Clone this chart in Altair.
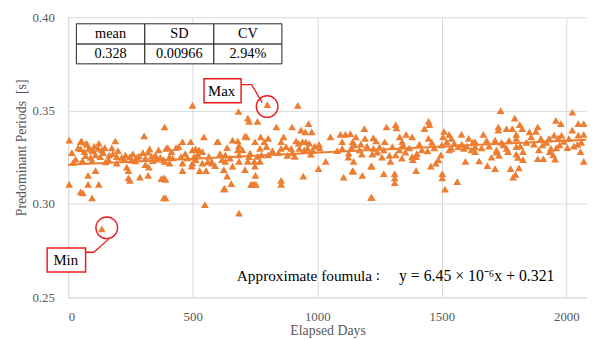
import altair as alt
import pandas as pd

# ---------------- data ----------------
pts_0_400 = [(4,0.3342),(54,0.3337),(77,0.3319),(50,0.3295),(83,0.3298),(96,0.3289),(120,0.3298),(147,0.3302),
             (189,0.3337),(305,0.3365),(387,0.3412),(363,0.3289),(393,0.3298),(327,0.3295),(70,0.3259),(90,0.3249),
             (110,0.3263),(129,0.3253),(162,0.3237),(195,0.3254),(215,0.3249),(248,0.3254),(275,0.3249),(310,0.3246),
             (321,0.3277),(57,0.3232),(96,0.3232),(195,0.3219),(235,0.3197),(242,0.3179),(310,0.3211),(324,0.3197),
             (387,0.3228),(110,0.3179),(80,0.3153),(4,0.3105),(80,0.3105),(123,0.3105),(59,0.3059),(96,0.3032),
             (242,0.3140),(248,0.3126),(288,0.3144),(321,0.3153),(384,0.3140),(384,0.3032),(135,0.2866),(50,0.3065),
             (374,0.3135),(50,0.3333),(72,0.3325),(123,0.3325),(100,0.3284),(140,0.3275),(165,0.3262),(180,0.3270),
             (230,0.3262),(260,0.3268),(285,0.3258),(350,0.3262),(370,0.3250),(30,0.3240),(20,0.3222),(150,0.3225),
             (270,0.3230),(340,0.3232),(384,0.3237),(15,0.3275),(40,0.3300),(65,0.3280),(105,0.3310),(135,0.3290),
             (175,0.3300),(200,0.3285),(225,0.3240),(255,0.3235),(300,0.3275),(335,0.3255),(355,0.3240)]
pts_400_830 = [(499,0.3528),(684,0.3495),(721,0.3460),(726,0.3442),(760,0.3442),(800,0.3532),(545,0.3359),(459,0.3333),
               (492,0.3333),(602,0.3333),(638,0.3302),(681,0.3337),(686,0.3312),(717,0.3359),(750,0.3333),(773,0.3359),
               (787,0.3333),(803,0.3351),(796,0.3307),(400,0.3302),(433,0.3302),(499,0.3289),(525,0.3289),(539,0.3280),
               (681,0.3289),(686,0.3263),(726,0.3254),(730,0.3272),(770,0.3298),(776,0.3263),(407,0.3254),(420,0.3246),
               (453,0.3254),(479,0.3246),(506,0.3254),(512,0.3237),(631,0.3263),(576,0.3228),(618,0.3237),(631,0.3228),
               (686,0.3228),(721,0.3228),(747,0.3228),(803,0.3263),(407,0.3219),(459,0.3219),(499,0.3219),(539,0.3219),
               (459,0.3179),(496,0.3202),(528,0.3179),(554,0.3179),(625,0.3184),(660,0.3202),(750,0.3202),(770,0.3228),
               (391,0.3132),(638,0.3149),(655,0.3109),(625,0.3079),(734,0.3105),(747,0.3105),(752,0.3153),(549,0.2996),
               (686,0.2951),(391,0.3032),(628,0.3083),(754,0.3105),(741,0.3105),(710,0.3363),(598,0.3333),(660,0.3342),
               (578,0.3219),(710,0.3184),(560,0.3225),(590,0.3205),(444,0.3307),(512,0.3295),(415,0.3280),(470,0.3270),
               (520,0.3265),(565,0.3255),(610,0.3270),(650,0.3245),(700,0.3290),(760,0.3255),(820,0.3285)]
pts_830_1230 = [(922,0.3528),(836,0.3412),(899,0.3412),(965,0.3430),(935,0.3395),(952,0.3386),(978,0.3386),(865,0.3359),
                (915,0.3337),(941,0.3333),(968,0.3325),(1007,0.3319),(1053,0.3359),(1093,0.3372),(1113,0.3372),(1133,0.3377),
                (1155,0.3359),(1189,0.3403),(1192,0.3351),(1100,0.3333),(1142,0.3333),(1225,0.3354),(855,0.3298),(875,0.3307),
                (895,0.3298),(928,0.3298),(948,0.3289),(961,0.3298),(974,0.3267),(1100,0.3298),(1137,0.3302),(1150,0.3316),
                (1126,0.3272),(1179,0.3267),(1221,0.3267),(1034,0.3228),(1146,0.3228),(1005,0.3189),(1216,0.3202),(1106,0.3144),
                (1142,0.3179),(1181,0.3153),(855,0.3126),(855,0.3105),(944,0.3149),(1216,0.3035),(855,0.3333),(925,0.3325),
                (954,0.3333),(981,0.3289),(1145,0.3175),(1080,0.3285),(990,0.3310),(900,0.3275),(880,0.3260),(1170,0.3290),
                (1200,0.3310),(845,0.3275),(910,0.3255),(1010,0.3300),(1125,0.3250),(1175,0.3320)]
pts_1230_1640 = [(1447,0.3442),(1450,0.3425),(1430,0.3403),(1278,0.3412),(1315,0.3425),(1318,0.3407),(1331,0.3359),(1357,0.3372),
                 (1381,0.3359),(1447,0.3351),(1509,0.3389),(1505,0.3359),(1529,0.3372),(1539,0.3351),(1579,0.3372),(1608,0.3351),
                 (1236,0.3337),(1271,0.3333),(1341,0.3333),(1225,0.3298),(1241,0.3277),(1267,0.3289),(1302,0.3307),(1344,0.3316),
                 (1354,0.3277),(1443,0.3284),(1500,0.3316),(1539,0.3298),(1566,0.3307),(1588,0.3298),(1619,0.3289),(1634,0.3307),
                 (1381,0.3254),(1397,0.3254),(1384,0.3237),(1315,0.3263),(1294,0.3228),(1496,0.3263),(1486,0.3237),(1476,0.3219),
                 (1456,0.3202),(1595,0.3228),(1219,0.3202),(1267,0.3162),(1311,0.3162),(1311,0.3140),(1311,0.3114),(1397,0.3179),
                 (1502,0.3162),(1502,0.3140),(1513,0.3079),(1562,0.3119),(1219,0.3035),(1520,0.3333),(1550,0.3325),(1580,0.3320),
                 (1600,0.3310),(1470,0.3300),(1420,0.3290),(1260,0.3250),(1290,0.3260),(1340,0.3245),(1400,0.3270),(1250,0.3305),
                 (1330,0.3290),(1370,0.3300),(1410,0.3320),(1460,0.3330),(1530,0.3290),(1625,0.3330)]
pts_1640_2083 = [(1736,0.3500),(2024,0.3491),(1793,0.3460),(1958,0.3447),(1978,0.3430),(1727,0.3412),(1727,0.3395),(1760,0.3403),
                 (1783,0.3403),(1813,0.3425),(1823,0.3403),(1885,0.3412),(1667,0.3372),(1799,0.3372),(1852,0.3386),(1878,0.3389),
                 (1951,0.3368),(1981,0.3368),(2024,0.3395),(2048,0.3430),(2070,0.3430),(1634,0.3333),(1714,0.3342),(1799,0.3351),
                 (1859,0.3359),(1898,0.3351),(1931,0.3351),(1968,0.3354),(2048,0.3368),(2070,0.3372),(1747,0.3316),(1760,0.3298),
                 (1720,0.3289),(1799,0.3307),(1905,0.3316),(1938,0.3298),(1973,0.3316),(2004,0.3302),(2044,0.3319),(1634,0.3280),
                 (1720,0.3277),(1766,0.3280),(1799,0.3267),(1826,0.3280),(1934,0.3280),(2057,0.3280),(1806,0.3249),(1826,0.3237),
                 (1885,0.3242),(1908,0.3242),(1947,0.3263),(1955,0.3240),(2070,0.3228),(1683,0.3205),(1714,0.3189),(1776,0.3189),
                 (1810,0.3193),(1786,0.3144),(1796,0.3158),(1740,0.3330),(1770,0.3340),(1840,0.3330),(1870,0.3320),(1920,0.3330),
                 (1990,0.3335),(2010,0.3350),(1690,0.3310),(1700,0.3250),(1660,0.3300),(1650,0.3230),(1680,0.3340),(1730,0.3260),
                 (1815,0.3310),(1890,0.3290),(1960,0.3300),(2030,0.3310),(2060,0.3330)]

stat_names = ["mean", "SD", "CV"]
stat_values = ["0.328", "0.00966", "2.94%"]
trend_slope = 6.45e-6
trend_intercept = 0.321
formula_parts = ["Approximate foumula", ":", "y = 6.45 \u00d7 10\u207b\u2076x + 0.321"]
x_ticks = [0, 500, 1000, 1500, 2000]
y_ticks = [0.25, 0.30, 0.35, 0.40]

# ---------------- build tables ----------------
all_pts = pts_0_400 + pts_400_830 + pts_830_1230 + pts_1230_1640 + pts_1640_2083
df = pd.DataFrame(all_pts, columns=["day", "period"])

X_MAX = 2083
W, H = 526, 284
SERIF = "Liberation Serif"
ORANGE = "#ED7D31"
RED = "#EE1C1C"
GRID = "#D9D9D9"
LABEL = "#595959"

trend = pd.DataFrame({"day": [0, 2080]})
trend["period"] = trend_intercept + trend_slope * trend["day"]

max_row = df.loc[[df["period"].idxmax()]]
min_row = df.loc[[df["period"].idxmin()]]

xscale = alt.Scale(domain=[0, X_MAX], nice=False, zero=False)
yscale = alt.Scale(domain=[0.25, 0.40], nice=False, zero=False)

xaxis = alt.Axis(title="Elapsed Days", values=x_ticks, format="d", ticks=False, tickSize=0,
                 labelPadding=13, labelFont=SERIF, labelFontSize=13, labelColor=LABEL,
                 titleFont=SERIF, titleFontSize=14, titleColor=LABEL, titleFontWeight="normal",
                 titleY=34, titleBaseline="middle",
                 grid=True, gridColor=GRID, domainColor=GRID)
yaxis = alt.Axis(title="Predominant Periods\u00a0\u00a0[s]", values=y_ticks, format=".2f", ticks=False, tickSize=0,
                 labelPadding=14, labelFont=SERIF, labelFontSize=13, labelColor=LABEL,
                 titleFont=SERIF, titleFontSize=14, titleColor=LABEL, titleFontWeight="normal",
                 titleAngle=270, titleX=-47, titleY=132, titleBaseline="middle", titleAlign="center",
                 grid=True, gridColor=GRID, domainColor=GRID)

points = alt.Chart(df).mark_point(shape="triangle-up", filled=True, size=62, color=ORANGE, opacity=1).encode(
    x=alt.X("day:Q", scale=xscale, axis=xaxis),
    y=alt.Y("period:Q", scale=yscale, axis=yaxis),
)
trend_line = alt.Chart(trend).mark_line(color=ORANGE, strokeWidth=2).encode(
    x=alt.X("day:Q", scale=xscale), y=alt.Y("period:Q", scale=yscale)
)
max_circle = alt.Chart(max_row).mark_point(shape="circle", size=484, filled=False, stroke=RED, strokeWidth=1.4,
                                           opacity=1, xOffset=-0.3, yOffset=2).encode(
    x=alt.X("day:Q", scale=xscale), y=alt.Y("period:Q", scale=yscale))
min_circle = alt.Chart(min_row).mark_point(shape="circle", size=484, filled=False, stroke=RED, strokeWidth=1.4,
                                           opacity=1, xOffset=5, yOffset=-1.2).encode(
    x=alt.X("day:Q", scale=xscale), y=alt.Y("period:Q", scale=yscale))

# annotation geometry (pixels inside the plot area)
table_x = [8.3, 77.7, 147.7, 216.7]
table_y = [6.7, 27.3, 47.3]
cells = []
for r in range(2):
    for c in range(3):
        cells.append({"x0": table_x[c], "x1": table_x[c + 1], "y0": table_y[r], "y1": table_y[r + 1],
                      "cx": (table_x[c] + table_x[c + 1]) / 2, "cy": (table_y[r] + table_y[r + 1]) / 2 + 0.5,
                      "label": (stat_names if r == 0 else stat_values)[c]})
cells = pd.DataFrame(cells)

table_rects = alt.Chart(cells).mark_rect(fill="white", stroke="#222222", strokeWidth=1).encode(
    x=alt.X("x0:Q", scale=None), x2="x1:Q", y=alt.Y("y0:Q", scale=None), y2="y1:Q")
table_text = alt.Chart(cells).mark_text(font=SERIF, fontSize=14.5, color="black", baseline="middle", align="center").encode(
    x=alt.X("cx:Q", scale=None), y=alt.Y("cy:Q", scale=None), text="label:N")

boxes = pd.DataFrame([
    {"x0": 137.7, "x1": 175.3, "y0": 62.3, "y1": 86.7, "cx": 155.5, "cy": 75.0, "label": "Max"},
    {"x0": -21.3, "x1": 17.7, "y0": 234.0, "y1": 258.3, "cx": -2.5, "cy": 246.5, "label": "Min"},
])
box_rects = alt.Chart(boxes).mark_rect(fill="white", stroke=RED, strokeWidth=1.5).encode(
    x=alt.X("x0:Q", scale=None), x2="x1:Q", y=alt.Y("y0:Q", scale=None), y2="y1:Q")
box_text = alt.Chart(boxes).mark_text(font=SERIF, fontSize=15, color="black", baseline="middle", align="center").encode(
    x=alt.X("cx:Q", scale=None), y=alt.Y("cy:Q", scale=None), text="label:N")

conn = pd.DataFrame({
    "grp": ["max", "max", "max", "min", "min", "min"],
    "ord": [0, 1, 2, 0, 1, 2],
    "px": [175.3, 186.0, 196.7, 17.7, 26.0, 41.0],
    "py": [68.3, 68.3, 86.7, 238.3, 238.3, 225.0],
})
connectors = alt.Chart(conn).mark_line(color=RED, strokeWidth=1.3).encode(
    x=alt.X("px:Q", scale=None), y=alt.Y("py:Q", scale=None), detail="grp:N", order="ord:Q")

formula_df = pd.DataFrame({
    "t": formula_parts,
    "fx": [171, 314, 493],
})
formula_a = alt.Chart(formula_df.iloc[[0]]).mark_text(
    font=SERIF, fontSize=15.5, color="black", align="left", baseline="middle").encode(
    x=alt.X("fx:Q", scale=None), y=alt.value(262), text="t:N")
formula_b = alt.Chart(formula_df.iloc[[1]]).mark_text(
    font=SERIF, fontSize=15.5, color="black", align="center", baseline="middle").encode(
    x=alt.X("fx:Q", scale=None), y=alt.value(261), text="t:N")
formula_c = alt.Chart(formula_df.iloc[[2]]).mark_text(
    font=SERIF, fontSize=16, color="black", align="right", baseline="middle").encode(
    x=alt.X("fx:Q", scale=None), y=alt.value(262), text="t:N")

chart = alt.layer(points, trend_line, max_circle, min_circle, table_rects, table_text,
                  connectors, box_rects, box_text, formula_a, formula_b, formula_c).properties(
    width=W, height=H,
    padding={"left": 61, "top": 7, "right": 0, "bottom": 45},
    autosize=alt.AutoSizeParams(type="none"),
    background="white",
).configure_view(stroke=None)

chart.save("out.html", embed_options={"renderer": "svg", "actions": False})
